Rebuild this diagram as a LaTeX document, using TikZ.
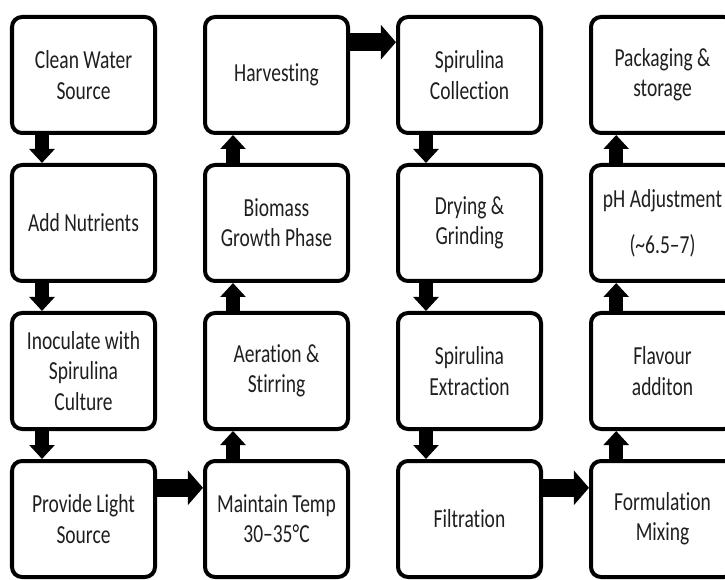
\documentclass[tikz,border=0pt]{standalone}
\usepackage{fontspec}
\setmainfont[FakeStretch=0.75, Ligatures={TeX,NoCommon}]{Carlito}
\usetikzlibrary{arrows.meta,positioning}

\begin{document}
\begin{tikzpicture}[
    stage/.style={draw, line width=0.1cm, rounded corners=0.25cm,
      minimum width=3.575cm, minimum height=2.9cm, align=center,
      font=\fontsize{18.5}{21.5}\selectfont, text=black!88},
    vflow/.style={line width=0.35cm, -{Triangle[length=0.35cm, width=0.62cm]}},
    hflow/.style={line width=0.44cm, -{Triangle[length=0.38cm, width=0.85cm]}},
  ]
  \clip (0,0) rectangle (18.125,-14.5);

  % --- cultivation (first column, going down) ---
  \node[stage] (water) at (2.0875,-1.875) {Clean Water\\Source};
  \node[stage, below=0.7cm of water] (nutri) {Add Nutrients};
  \node[stage, below=0.7cm of nutri] (inoc) {Inoculate with\\Spirulina\\Culture};
  \node[stage, below=0.7cm of inoc] (light) {Provide Light\\Source};

  % --- growth (second column, going up) ---
  \node[stage, right=1.15cm of light] (temp) {Maintain Temp\\30–35°C};
  \node[stage, above=0.7cm of temp] (aer) {Aeration \&\\Stirring};
  \node[stage, above=0.7cm of aer] (bio) {Biomass\\Growth Phase};
  \node[stage, above=0.7cm of bio] (harv) {Harvesting};

  % --- processing (third column, going down) ---
  \node[stage, right=1.15cm of harv] (coll) {Spirulina\\Collection};
  \node[stage, below=0.7cm of coll] (dry) {Drying \&\\Grinding};
  \node[stage, below=0.7cm of dry] (extr) {Spirulina\\Extraction};
  \node[stage, below=0.7cm of extr] (filt) {Filtration};

  % --- product (fourth column, going up) ---
  \node[stage, right=1.15cm of filt] (form) {Formulation\\Mixing};
  \node[stage, above=0.7cm of form] (flav) {Flavour\\additon};
  \node[stage, above=0.7cm of flav] (ph) {pH Adjustment\\[11pt](\textasciitilde6.5–7)};
  \node[stage, above=0.7cm of ph] (pack) {Packaging \&\\storage};

  % first column arrows
  \draw[vflow] ([xshift=0.8cm]water.south west) -- ([xshift=0.8cm]nutri.north west);
  \draw[vflow] ([xshift=0.8cm]nutri.south west) -- ([xshift=0.8cm]inoc.north west);
  \draw[vflow] ([xshift=0.8cm]inoc.south west) -- ([xshift=0.8cm]light.north west);
  \draw[hflow] ([yshift=-0.72cm]light.north east) -- ([yshift=-0.72cm]temp.north west);

  % second column arrows
  \draw[vflow] ([xshift=0.75cm]temp.north west) -- ([xshift=0.75cm]aer.south west);
  \draw[vflow] ([xshift=0.75cm]aer.north west) -- ([xshift=0.75cm]bio.south west);
  \draw[vflow] ([xshift=0.75cm]bio.north west) -- ([xshift=0.75cm]harv.south west);
  \draw[hflow] ([yshift=-0.68cm]harv.north east) -- ([yshift=-0.68cm]coll.north west);

  % third column arrows
  \draw[vflow] ([xshift=0.75cm]coll.south west) -- ([xshift=0.75cm]dry.north west);
  \draw[vflow] ([xshift=0.75cm]dry.south west) -- ([xshift=0.75cm]extr.north west);
  \draw[vflow] ([xshift=0.75cm]extr.south west) -- ([xshift=0.75cm]filt.north west);
  \draw[hflow] ([yshift=-0.72cm]filt.north east) -- ([yshift=-0.72cm]form.north west);

  % fourth column arrows
  \draw[vflow] ([xshift=0.68cm]form.north west) -- ([xshift=0.68cm]flav.south west);
  \draw[vflow] ([xshift=0.68cm]flav.north west) -- ([xshift=0.68cm]ph.south west);
  \draw[vflow] ([xshift=0.68cm]ph.north west) -- ([xshift=0.68cm]pack.south west);

\end{tikzpicture}
\end{document}
